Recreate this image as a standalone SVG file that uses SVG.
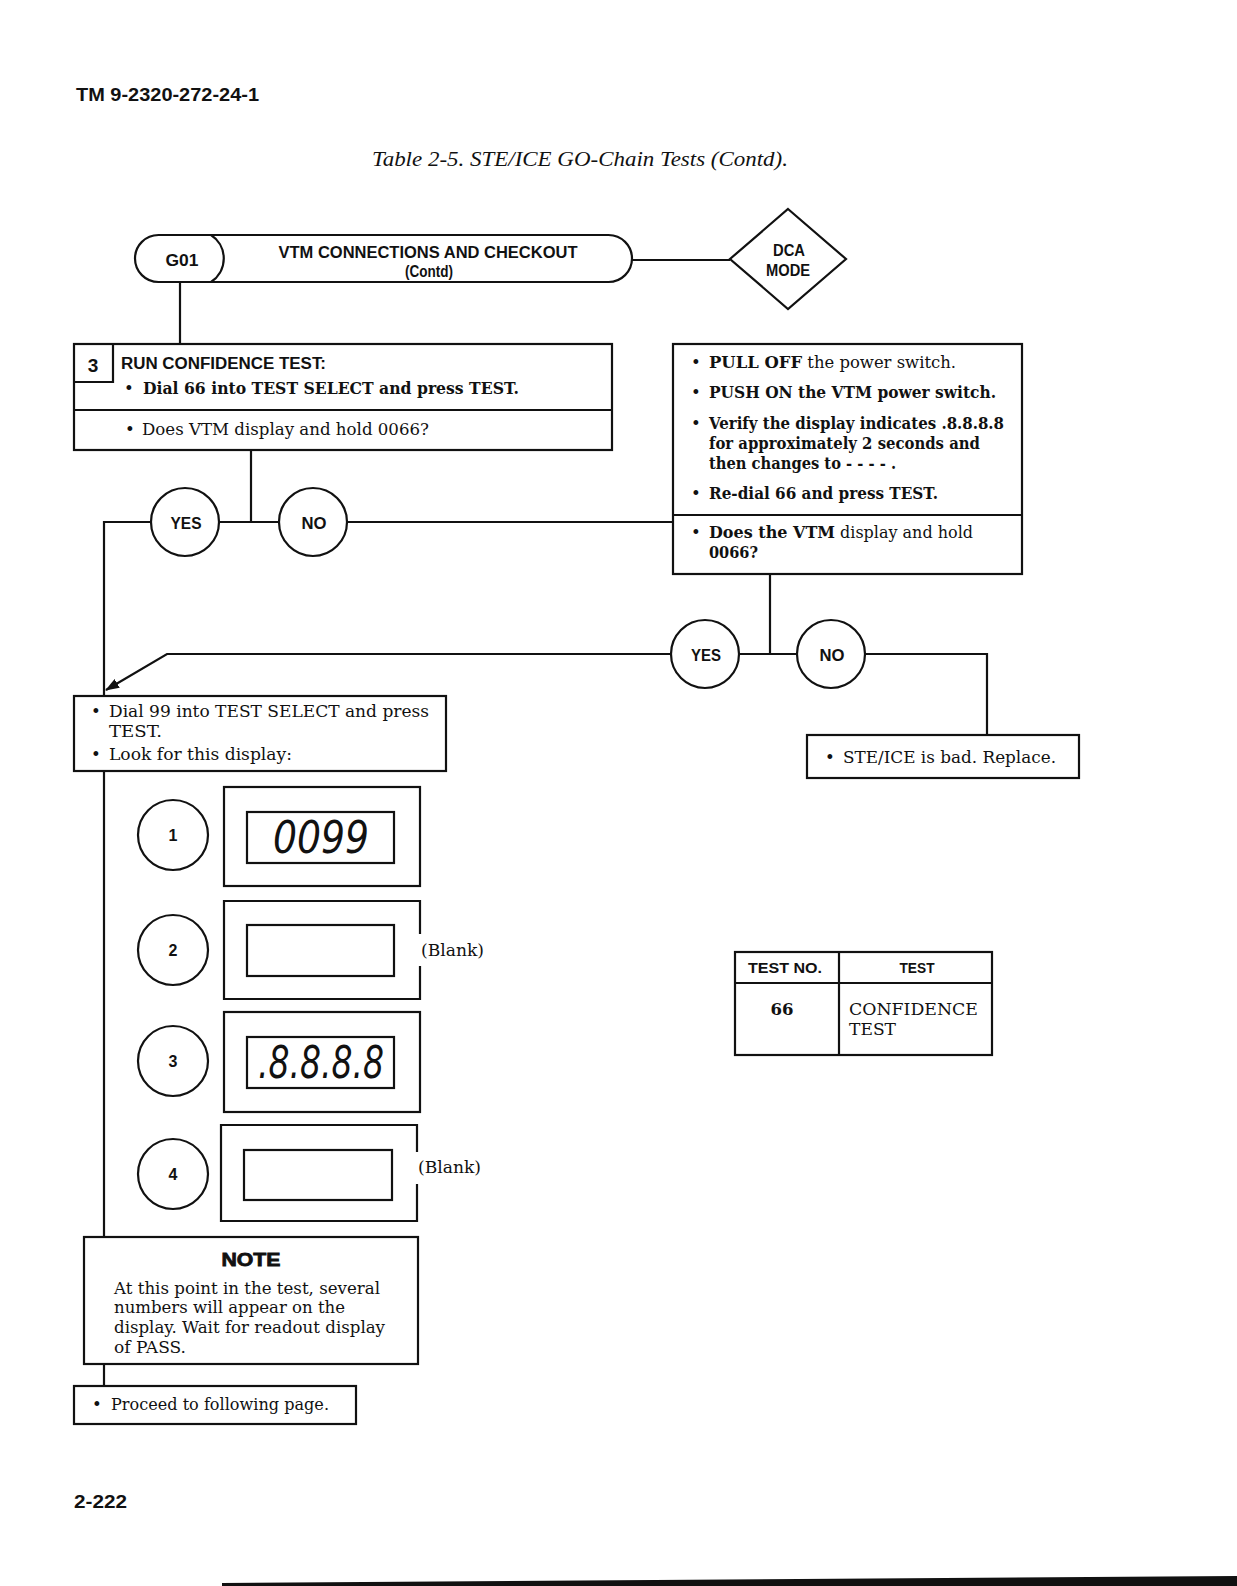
<svg xmlns="http://www.w3.org/2000/svg" width="1237" height="1586" viewBox="0 0 1237 1586">
<style>
.ln{fill:none;stroke:#111;stroke-width:2.2}
.bx{fill:#fff;stroke:#111;stroke-width:2.2}
.sf{font-family:"DejaVu Serif","Liberation Serif",serif;font-size:16.5px;fill:#111}
.sb{font-family:"Liberation Sans","DejaVu Sans",sans-serif;font-weight:bold;fill:#111}
.c{text-anchor:middle}
.seg{font-family:"DejaVu Sans","Liberation Sans",sans-serif;font-style:italic;font-weight:200;font-size:44px;fill:#111}
</style>
<defs>
<marker id="ah" viewBox="0 0 14 10" refX="13" refY="5" markerWidth="14" markerHeight="10" markerUnits="userSpaceOnUse" orient="auto">
<path d="M0,0 L14,5 L0,10 Z" fill="#111"/>
</marker>
</defs>
<rect width="1237" height="1586" fill="#fff"/>

<text class="sb" x="76" y="101" font-size="18" textLength="183" lengthAdjust="spacingAndGlyphs">TM 9-2320-272-24-1</text>
<text x="372" y="166" font-family="Liberation Serif,serif" font-style="italic" font-size="21" fill="#111" textLength="416" lengthAdjust="spacingAndGlyphs">Table 2-5. STE/ICE GO-Chain Tests (Contd).</text>

<g id="connectors">
<line class="ln" x1="632" y1="260" x2="730" y2="260"/>
<line class="ln" x1="180" y1="282" x2="180" y2="344"/>
<line class="ln" x1="251" y1="450" x2="251" y2="522"/>
<line class="ln" x1="104" y1="522" x2="151" y2="522"/>
<line class="ln" x1="219" y1="522" x2="279" y2="522"/>
<line class="ln" x1="347" y1="522" x2="673" y2="522"/>
<line class="ln" x1="104" y1="521" x2="104" y2="696"/>
<line class="ln" x1="104" y1="771" x2="104" y2="1237"/>
<line class="ln" x1="104" y1="1364" x2="104" y2="1386"/>
<line class="ln" x1="770" y1="574" x2="770" y2="654"/>
<line class="ln" x1="739" y1="654" x2="797" y2="654"/>
<polyline class="ln" points="671,654 167,654 106,690" marker-end="url(#ah)"/>
<polyline class="ln" points="865,654 987,654 987,735"/>
</g>

<g id="g01">
<rect class="bx" x="135" y="235" width="497" height="47" rx="23.5"/>
<path class="ln" d="M211,235 A28,28 0 0 1 211,282"/>
<text class="sb c" x="182" y="266" font-size="17" textLength="33" lengthAdjust="spacingAndGlyphs">G01</text>
<text class="sb c" x="428" y="258" font-size="16" textLength="299" lengthAdjust="spacingAndGlyphs">VTM CONNECTIONS AND CHECKOUT</text>
<text class="sb c" x="429" y="277" font-size="16" textLength="48" lengthAdjust="spacingAndGlyphs">(Contd)</text>
</g>

<g id="dca">
<polygon class="bx" points="788,209 846,259 788,309 730,259"/>
<text class="sb c" x="789" y="256" font-size="16" textLength="32" lengthAdjust="spacingAndGlyphs">DCA</text>
<text class="sb c" x="788" y="276" font-size="16" textLength="44" lengthAdjust="spacingAndGlyphs">MODE</text>
</g>

<g id="step3">
<rect class="bx" x="74" y="344" width="538" height="106"/>
<line class="ln" x1="74" y1="410" x2="612" y2="410"/>
<polyline class="ln" points="74,382 113,382 113,344"/>
<text class="sb c" x="93" y="372" font-size="19">3</text>
<text class="sb" x="121" y="369" font-size="16" textLength="205" lengthAdjust="spacingAndGlyphs">RUN CONFIDENCE TEST:</text>
<text class="sf" x="124" y="394">•</text>
<text class="sf" x="143" y="394" font-weight="bold" textLength="376" lengthAdjust="spacingAndGlyphs">Dial 66 into TEST SELECT and press TEST.</text>
<text class="sf" x="125" y="435">•</text>
<text class="sf" x="142" y="435" textLength="287" lengthAdjust="spacingAndGlyphs">Does VTM display and hold 0066?</text>
</g>

<g id="yes1">
<circle class="bx" cx="185" cy="522" r="34"/>
<text class="sb c" x="186" y="529" font-size="17" textLength="31" lengthAdjust="spacingAndGlyphs">YES</text>
</g>
<g id="no1">
<circle class="bx" cx="313" cy="522" r="34"/>
<text class="sb c" x="314" y="529" font-size="17" textLength="25" lengthAdjust="spacingAndGlyphs">NO</text>
</g>

<g id="repower">
<rect class="bx" x="673" y="344" width="349" height="230"/>
<line class="ln" x1="673" y1="515" x2="1022" y2="515"/>
<text class="sf" x="691" y="368">•</text>
<text class="sf" x="709" y="368" textLength="247" lengthAdjust="spacingAndGlyphs"><tspan font-weight="bold">PULL OFF</tspan> the power switch.</text>
<text class="sf" x="691" y="398">•</text>
<text class="sf" x="709" y="398" font-weight="bold" textLength="287" lengthAdjust="spacingAndGlyphs">PUSH ON the VTM power switch.</text>
<text class="sf" x="691" y="429">•</text>
<text class="sf" x="709" y="429" font-weight="bold" textLength="295" lengthAdjust="spacingAndGlyphs">Verify the display indicates .8.8.8.8</text>
<text class="sf" x="709" y="449" font-weight="bold" textLength="271" lengthAdjust="spacingAndGlyphs">for approximately 2 seconds and</text>
<text class="sf" x="709" y="469" font-weight="bold" textLength="187" lengthAdjust="spacingAndGlyphs">then changes to - - - - .</text>
<text class="sf" x="691" y="499">•</text>
<text class="sf" x="709" y="499" font-weight="bold" textLength="229" lengthAdjust="spacingAndGlyphs">Re-dial 66 and press TEST.</text>
<text class="sf" x="691" y="538">•</text>
<text class="sf" x="709" y="538" textLength="264" lengthAdjust="spacingAndGlyphs"><tspan font-weight="bold">Does the VTM</tspan> display and hold</text>
<text class="sf" x="709" y="558" font-weight="bold" textLength="49" lengthAdjust="spacingAndGlyphs">0066?</text>
</g>

<g id="yes2">
<circle class="bx" cx="705" cy="654" r="34"/>
<text class="sb c" x="706" y="661" font-size="17" textLength="30" lengthAdjust="spacingAndGlyphs">YES</text>
</g>
<g id="no2">
<circle class="bx" cx="831" cy="654" r="34"/>
<text class="sb c" x="832" y="661" font-size="17" textLength="25" lengthAdjust="spacingAndGlyphs">NO</text>
</g>

<g id="bad">
<rect class="bx" x="807" y="735" width="272" height="43"/>
<text class="sf" x="825" y="763">•</text>
<text class="sf" x="843" y="763" textLength="213" lengthAdjust="spacingAndGlyphs">STE/ICE is bad. Replace.</text>
</g>

<g id="dial99">
<rect class="bx" x="74" y="696" width="372" height="75"/>
<text class="sf" x="91" y="717">•</text>
<text class="sf" x="109" y="717" textLength="320" lengthAdjust="spacingAndGlyphs">Dial 99 into TEST SELECT and press</text>
<text class="sf" x="109" y="737" textLength="53" lengthAdjust="spacingAndGlyphs">TEST.</text>
<text class="sf" x="91" y="760">•</text>
<text class="sf" x="109" y="760" textLength="183" lengthAdjust="spacingAndGlyphs">Look for this display:</text>
</g>

<g id="disp1">
<circle class="bx" cx="173" cy="835" r="35"/>
<text class="sb c" x="173" y="841" font-size="16">1</text>
<rect class="bx" x="224" y="787" width="196" height="99"/>
<rect class="bx" x="247" y="812" width="147" height="51"/>
<text class="seg" x="273" y="853" textLength="96" lengthAdjust="spacingAndGlyphs">0099</text>
</g>

<g id="disp2">
<circle class="bx" cx="173" cy="950" r="35"/>
<text class="sb c" x="173" y="956" font-size="16">2</text>
<polyline class="ln" points="420,934 420,901 224,901 224,999 420,999 420,966"/>
<rect class="bx" x="247" y="925" width="147" height="51"/>
<text class="sf" x="421" y="956" textLength="63" lengthAdjust="spacingAndGlyphs">(Blank)</text>
</g>

<g id="disp3">
<circle class="bx" cx="173" cy="1061" r="35"/>
<text class="sb c" x="173" y="1067" font-size="16">3</text>
<rect class="bx" x="224" y="1012" width="196" height="100"/>
<rect class="bx" x="247" y="1037" width="147" height="51"/>
<text class="seg" x="258" y="1078" textLength="126" lengthAdjust="spacingAndGlyphs">.8.8.8.8</text>
</g>

<g id="disp4">
<circle class="bx" cx="173" cy="1174" r="35"/>
<text class="sb c" x="173" y="1180" font-size="16">4</text>
<polyline class="ln" points="417,1152 417,1125 221,1125 221,1221 417,1221 417,1184"/>
<rect class="bx" x="244" y="1150" width="148" height="50"/>
<text class="sf" x="418" y="1173" textLength="63" lengthAdjust="spacingAndGlyphs">(Blank)</text>
</g>

<g id="note">
<rect class="bx" x="84" y="1237" width="334" height="127"/>
<text class="sb c" x="251" y="1266" font-size="18" font-family="Liberation Sans,sans-serif" textLength="59" lengthAdjust="spacingAndGlyphs" stroke="#111" stroke-width="0.8">NOTE</text>
<text class="sf" x="114" y="1294" textLength="266" lengthAdjust="spacingAndGlyphs">At this point in the test, several</text>
<text class="sf" x="114" y="1313" font-size="15" textLength="231" lengthAdjust="spacingAndGlyphs">numbers will appear on the</text>
<text class="sf" x="114" y="1333" textLength="271" lengthAdjust="spacingAndGlyphs">display. Wait for readout display</text>
<text class="sf" x="114" y="1353" textLength="72" lengthAdjust="spacingAndGlyphs">of PASS.</text>
</g>

<g id="proceed">
<rect class="bx" x="74" y="1386" width="282" height="38"/>
<text class="sf" x="92" y="1410">•</text>
<text class="sf" x="111" y="1410" font-size="15" textLength="218" lengthAdjust="spacingAndGlyphs">Proceed to following page.</text>
</g>

<g id="table">
<rect class="bx" x="735" y="952" width="257" height="103"/>
<line class="ln" x1="735" y1="983" x2="992" y2="983"/>
<line class="ln" x1="839" y1="952" x2="839" y2="1055"/>
<text class="sb c" x="785" y="973" font-size="15" textLength="74" lengthAdjust="spacingAndGlyphs">TEST NO.</text>
<text class="sb c" x="917" y="973" font-size="15" textLength="35" lengthAdjust="spacingAndGlyphs">TEST</text>
<text class="sf c" x="782" y="1015" font-weight="bold">66</text>
<text class="sf" x="849" y="1015" textLength="129" lengthAdjust="spacingAndGlyphs">CONFIDENCE</text>
<text class="sf" x="849" y="1035" textLength="47" lengthAdjust="spacingAndGlyphs">TEST</text>
</g>

<text class="sb" x="74" y="1508" font-size="19" textLength="53" lengthAdjust="spacingAndGlyphs">2-222</text>
<polygon points="222,1583 1237,1576 1237,1586 222,1586" fill="#111"/>
</svg>
